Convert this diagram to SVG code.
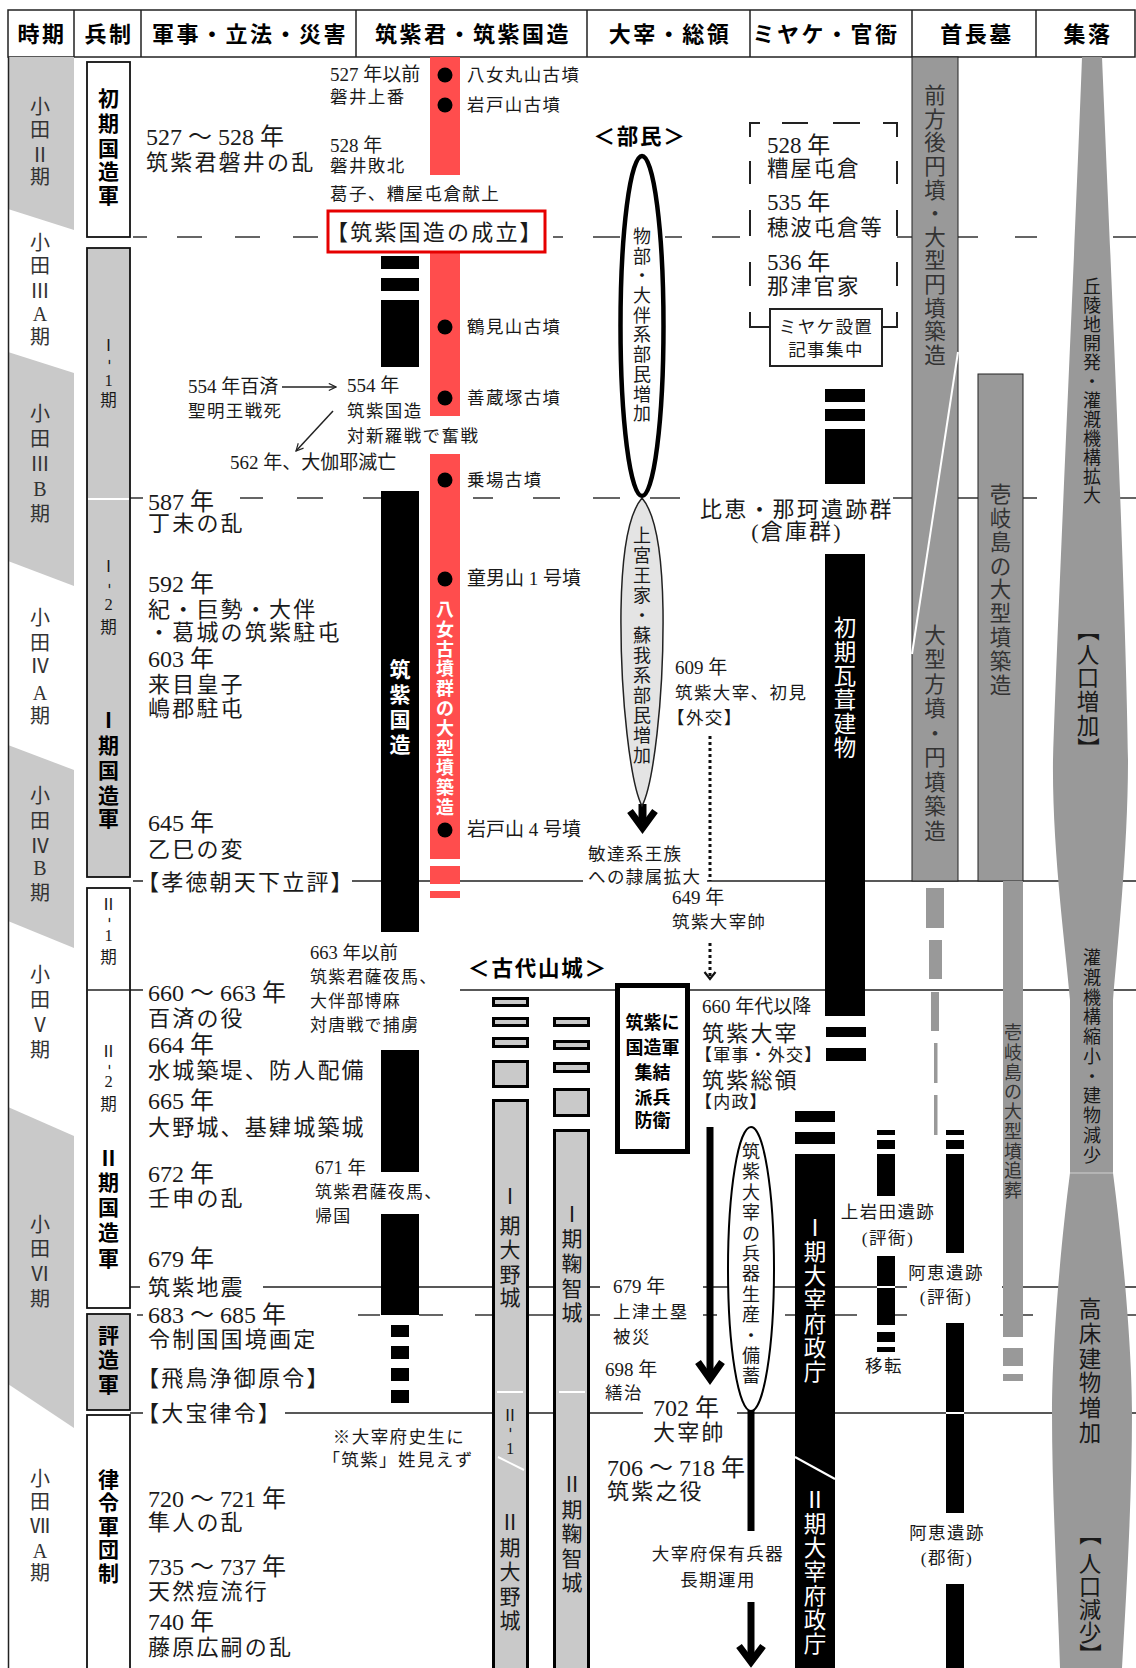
<svg xmlns="http://www.w3.org/2000/svg" width="1136" height="1668" viewBox="0 0 1136 1668">
<defs>
<style>
text{font-family:"Liberation Serif","Noto Sans CJK JP",serif;fill:#1a1a1a}
.b{font-family:"Noto Sans CJK JP",sans-serif;font-weight:700;fill:#000}
.hd{font-family:"Noto Sans CJK JP",sans-serif;font-weight:700;font-size:22px;letter-spacing:2.5px;text-anchor:middle;fill:#000}
.f24{font-size:22px;letter-spacing:2.2px}.d24{font-size:24px}
.f23{font-size:21.5px;letter-spacing:1.8px}.d23{font-size:23px}
.f19{font-size:17.5px;letter-spacing:1.4px}.d19{font-size:19px}
.f18{font-size:17px;letter-spacing:1.2px}.d18{font-size:18.5px}
.v24{font-size:22.5px}.v23{font-size:21.5px}.v22{font-size:21px}.v21{font-size:20px}.v19{font-size:18px}.v17{font-size:16.5px}
.m{text-anchor:middle}
.w{fill:#fff}
.g3{fill:#333}
.ln{stroke:#222;stroke-width:1.5;fill:none}
.dl{stroke:#333;stroke-width:1.5;fill:none}
.lg{fill:#c9c9c9}
.mg{fill:#999}
.bk{fill:#000}
.red{fill:#ff4d4d}
.wl{stroke:#fff;stroke-width:2;fill:none}
</style>
<marker id="ah" viewBox="0 0 10 10" refX="9" refY="5" markerWidth="9" markerHeight="9" orient="auto" markerUnits="userSpaceOnUse"><path d="M1,1 L9,5 L1,9" fill="none" stroke="#222" stroke-width="1.3"/></marker>
</defs>
<rect x="0" y="0" width="1136" height="1668" fill="#fff"/>

<g id="header">
<rect x="8" y="10" width="1127" height="47" fill="#fff" stroke="#222" stroke-width="1.5"/>
<path class="ln" d="M74,10V57 M141,10V57 M356,10V57 M587,10V57 M750,10V57 M912,10V57 M1036,10V57"/>
<text class="hd" x="42" y="41.5">時期</text>
<text class="hd" x="109" y="41.5">兵制</text>
<text class="hd" x="250" y="41.5">軍事・立法・災害</text>
<text class="hd" x="473" y="41.5">筑紫君・筑紫国造</text>
<text class="hd" x="670" y="41.5">大宰・総領</text>
<text class="hd" x="826" y="41.5">ミヤケ・官衙</text>
<text class="hd" x="977" y="41.5">首長墓</text>
<text class="hd" x="1088" y="41.5">集落</text>
</g>

<g id="period-column">
<rect x="8" y="57" width="66" height="1611" class="lg"/>
<polygon points="8,209 74,230 74,373 8,352" fill="#fff"/>
<polygon points="8,561 74,586 74,770 8,745" fill="#fff"/>
<polygon points="8,921 74,948 74,1136 8,1107" fill="#fff"/>
<polygon points="8,1384 74,1428 74,1668 8,1668" fill="#fff"/>
<line x1="8.5" y1="57" x2="8.5" y2="1668" stroke="#222" stroke-width="1.5"/>
<text class="v21 m g3"><tspan x="40" y="114">小</tspan><tspan x="40" y="137">田</tspan><tspan x="40" y="162">Ⅱ</tspan><tspan x="40" y="184">期</tspan></text>
<text class="v21 m g3"><tspan x="40" y="250">小</tspan><tspan x="40" y="273">田</tspan><tspan x="40" y="298">Ⅲ</tspan><tspan x="40" y="321">A</tspan><tspan x="40" y="344">期</tspan></text>
<text class="v21 m g3"><tspan x="40" y="421">小</tspan><tspan x="40" y="446">田</tspan><tspan x="40" y="471">Ⅲ</tspan><tspan x="40" y="496">B</tspan><tspan x="40" y="521">期</tspan></text>
<text class="v21 m g3"><tspan x="40" y="625">小</tspan><tspan x="40" y="650">田</tspan><tspan x="40" y="673">Ⅳ</tspan><tspan x="40" y="700">A</tspan><tspan x="40" y="723">期</tspan></text>
<text class="v21 m g3"><tspan x="40" y="803">小</tspan><tspan x="40" y="828">田</tspan><tspan x="40" y="853">Ⅳ</tspan><tspan x="40" y="875">B</tspan><tspan x="40" y="900">期</tspan></text>
<text class="v21 m g3"><tspan x="40" y="982">小</tspan><tspan x="40" y="1007">田</tspan><tspan x="40" y="1032">Ⅴ</tspan><tspan x="40" y="1057">期</tspan></text>
<text class="v21 m g3"><tspan x="40" y="1232">小</tspan><tspan x="40" y="1256">田</tspan><tspan x="40" y="1281">Ⅵ</tspan><tspan x="40" y="1306">期</tspan></text>
<text class="v21 m g3"><tspan x="40" y="1486">小</tspan><tspan x="40" y="1509">田</tspan><tspan x="40" y="1533">Ⅶ</tspan><tspan x="40" y="1558">A</tspan><tspan x="40" y="1580">期</tspan></text>
</g>

<g id="connectors">
<path class="dl" d="M133,237H147 M177,237H202 M235,237H260 M293,237H318 M553,237H563 M593,237H620 M665,237H682 M712,237H740 M897,237H913 M958,237H978 M1015,237H1037 M1113,237H1136"/>
<path class="dl" d="M130,498H143 M240,498H263 M297,498H323 M363,498H381 M473,498H493 M533,498H560 M593,498H620 M650,498H680 M893,498H913 M958,498H978 M1023,498H1037 M1113,498H1136"/>
<path class="ln" d="M133,881H143 M352,881H583 M707,881H1136"/>
<path class="ln" d="M87,990H143 M460,990H615 M690,990H1136"/>
<path class="ln" d="M130,1287H140 M263,1287H600 M703,1287H907 M1002,1287H1136"/>
<path class="dl" d="M137,1315H143 M358,1315H380 M419,1315H443 M475,1315H493 M527,1315H553 M590,1315H600 M703,1315H717 M785,1315H795 M835,1315H857 M895,1315H907 M1000,1315H1033 M1127,1315H1136"/>
<path class="ln" d="M130,1413H143 M285,1413H643 M737,1413H1136"/>
<path class="ln" d="M282,387H336" marker-end="url(#ah)"/>
<path class="ln" d="M333,411L296,451" marker-end="url(#ah)"/>
<path d="M710,736V881 M710,943V976" stroke="#111" stroke-width="3" stroke-dasharray="3 3" fill="none"/>
<path d="M704.5,972 L710,979 L715.5,972" fill="none" stroke="#111" stroke-width="2.2"/>
<path d="M642.5,804V822" stroke="#000" stroke-width="8"/>
<path d="M630,811 L642.5,828 L655,811" fill="none" stroke="#000" stroke-width="7"/>
<path d="M710,1127V1376" stroke="#000" stroke-width="7"/>
<path d="M698,1362 L710,1379 L722,1362" fill="none" stroke="#000" stroke-width="7"/>
<path d="M751,1410V1531" stroke="#000" stroke-width="7"/>
<path d="M751,1602V1660" stroke="#000" stroke-width="7"/>
<path d="M739,1646 L751,1662 L763,1646" fill="none" stroke="#000" stroke-width="7"/>
</g>

<g id="heisei">
<g id="box-shoki"><rect x="87" y="62" width="43" height="175" fill="#fff" stroke="#111" stroke-width="1.8"/>
<text class="b v22 m"><tspan x="108.5" y="106">初</tspan><tspan x="108.5" y="131">期</tspan><tspan x="108.5" y="156">国</tspan><tspan x="108.5" y="179">造</tspan><tspan x="108.5" y="203">軍</tspan></text></g>
<g id="box-1"><rect x="87" y="248" width="43" height="629" class="lg" stroke="#111" stroke-width="1.8"/>
<path d="M88,499H129" class="wl"/>
<text class="v17 m"><tspan x="108.5" y="351">Ⅰ</tspan><tspan x="107.4" y="359.2" rotate="90">-</tspan><tspan x="108.5" y="386">1</tspan><tspan x="108.5" y="406">期</tspan></text>
<text class="v17 m"><tspan x="108.5" y="572">Ⅰ</tspan><tspan x="107.4" y="583.2" rotate="90">-</tspan><tspan x="108.5" y="610">2</tspan><tspan x="108.5" y="633">期</tspan></text>
<text class="b v22 m"><tspan x="108.5" y="728">Ⅰ</tspan><tspan x="108.5" y="753">期</tspan><tspan x="108.5" y="778">国</tspan><tspan x="108.5" y="803">造</tspan><tspan x="108.5" y="826">軍</tspan></text></g>
<g id="box-2"><rect x="87" y="888" width="43" height="420" fill="#fff" stroke="#111" stroke-width="1.8"/>
<path d="M87,990H130" class="ln"/>
<text class="v17 m"><tspan x="108.5" y="910">Ⅱ</tspan><tspan x="107.4" y="917.2" rotate="90">-</tspan><tspan x="108.5" y="941">1</tspan><tspan x="108.5" y="963">期</tspan></text>
<text class="v17 m"><tspan x="108.5" y="1057">Ⅱ</tspan><tspan x="107.4" y="1064.2" rotate="90">-</tspan><tspan x="108.5" y="1087">2</tspan><tspan x="108.5" y="1110">期</tspan></text>
<text class="b v22 m"><tspan x="108.5" y="1166">Ⅱ</tspan><tspan x="108.5" y="1190">期</tspan><tspan x="108.5" y="1215">国</tspan><tspan x="108.5" y="1240">造</tspan><tspan x="108.5" y="1266">軍</tspan></text></g>
<g id="box-hyo"><rect x="87" y="1314" width="43" height="96" class="lg" stroke="#111" stroke-width="1.8"/>
<text class="b v22 m"><tspan x="108.5" y="1343">評</tspan><tspan x="108.5" y="1367">造</tspan><tspan x="108.5" y="1392">軍</tspan></text></g>
<g id="box-ritsuryo"><rect x="87" y="1415" width="43" height="270" fill="#fff" stroke="#111" stroke-width="1.8"/>
<text class="b v22 m"><tspan x="108.5" y="1487">律</tspan><tspan x="108.5" y="1510">令</tspan><tspan x="108.5" y="1534">軍</tspan><tspan x="108.5" y="1557">団</tspan><tspan x="108.5" y="1581">制</tspan></text></g>
</g>

<g id="events">
<text class="d24" x="146" y="145">527 ～ 528 年</text>
<text class="f24" x="146" y="170">筑紫君磐井の乱</text>
<text class="d24" x="148" y="510">587 年</text>
<text class="f24" x="148" y="531">丁未の乱</text>
<text class="d24" x="148" y="592">592 年</text>
<text class="f24" x="148" y="617">紀・巨勢・大伴</text>
<text class="f24" x="148" y="640">・葛城の筑紫駐屯</text>
<text class="d24" x="148" y="667">603 年</text>
<text class="f24" x="148" y="692">来目皇子</text>
<text class="f24" x="148" y="716">嶋郡駐屯</text>
<text class="d24" x="148" y="831">645 年</text>
<text class="f24" x="148" y="857">乙巳の変</text>
<text class="f24" x="137" y="890">【孝徳朝天下立評】</text>
<text class="d24" x="148" y="1001">660 ～ 663 年</text>
<text class="f24" x="148" y="1026">百済の役</text>
<text class="d24" x="148" y="1053">664 年</text>
<text class="f24" x="148" y="1078">水城築堤、防人配備</text>
<text class="d24" x="148" y="1109">665 年</text>
<text class="f24" x="148" y="1135">大野城、基肄城築城</text>
<text class="d24" x="148" y="1182">672 年</text>
<text class="f24" x="148" y="1206">壬申の乱</text>
<text class="d24" x="148" y="1267">679 年</text>
<text class="f24" x="148" y="1295">筑紫地震</text>
<text class="d24" x="148" y="1323">683 ～ 685 年</text>
<text class="f24" x="148" y="1347">令制国国境画定</text>
<text class="f24" x="137" y="1386">【飛鳥浄御原令】</text>
<text class="f24" x="137" y="1421">【大宝律令】</text>
<text class="d24" x="148" y="1507">720 ～ 721 年</text>
<text class="f24" x="148" y="1530">隼人の乱</text>
<text class="d24" x="148" y="1575">735 ～ 737 年</text>
<text class="f24" x="148" y="1599">天然痘流行</text>
<text class="d24" x="148" y="1630">740 年</text>
<text class="f24" x="148" y="1655">藤原広嗣の乱</text>
<text class="d19" x="188" y="393">554 年百済</text>
<text class="f19" x="188" y="417">聖明王戦死</text>
<text class="d19" x="230" y="469">562 年、大伽耶滅亡</text>
<text class="d18" x="310" y="959">663 年以前</text>
<text class="f18" x="310" y="983">筑紫君薩夜馬、</text>
<text class="f18" x="310" y="1007">大伴部博麻</text>
<text class="f18" x="310" y="1031">対唐戦で捕虜</text>
<text class="d18" x="315" y="1174">671 年</text>
<text class="f18" x="315" y="1198">筑紫君薩夜馬、</text>
<text class="f18" x="315" y="1222">帰国</text>
<text class="f19 m" x="399" y="1443">※大宰府史生に</text>
<text class="f19 m" x="398" y="1466">「筑紫」姓見えず</text>
</g>

<g id="chikushi-kimi">
<rect class="red" x="430" y="57" width="30" height="118"/>
<rect class="red" x="430" y="252" width="30" height="164"/>
<rect class="red" x="430" y="454" width="30" height="405"/>
<rect class="red" x="430" y="866" width="30" height="18"/>
<rect class="red" x="430" y="891" width="30" height="7"/>
<g fill="#000"><circle cx="445" cy="75" r="7.5"/><circle cx="445" cy="105" r="7.5"/><circle cx="445" cy="327" r="7.5"/><circle cx="445" cy="398" r="7.5"/><circle cx="445" cy="480" r="7.5"/><circle cx="445" cy="579" r="7.5"/><circle cx="445" cy="830" r="7.5"/></g>
<text class="f19" x="467" y="81">八女丸山古墳</text>
<text class="f19" x="467" y="111">岩戸山古墳</text>
<text class="f19" x="467" y="333">鶴見山古墳</text>
<text class="f19" x="467" y="404">善蔵塚古墳</text>
<text class="f19" x="467" y="486">乗場古墳</text>
<text class="d19" x="467" y="585">童男山 1 号墳</text>
<text class="d19" x="467" y="836">岩戸山 4 号墳</text>
<text class="b v19 m w"><tspan x="445" y="616">八</tspan><tspan x="445" y="636">女</tspan><tspan x="445" y="656">古</tspan><tspan x="445" y="675">墳</tspan><tspan x="445" y="695">群</tspan><tspan x="445" y="715">の</tspan><tspan x="445" y="735">大</tspan><tspan x="445" y="755">型</tspan><tspan x="445" y="774">墳</tspan><tspan x="445" y="794">築</tspan><tspan x="445" y="814">造</tspan></text>
<g class="bk"><rect x="381" y="256" width="38" height="13"/><rect x="381" y="278" width="38" height="13"/><rect x="381" y="300" width="38" height="67"/><rect x="381" y="491" width="38" height="441"/><rect x="381" y="1050" width="38" height="122"/><rect x="381" y="1214" width="38" height="101"/><rect x="391" y="1325" width="18" height="12"/><rect x="391" y="1346" width="18" height="13"/><rect x="391" y="1368" width="18" height="13"/><rect x="391" y="1390" width="18" height="13"/></g>
<text class="b v22 m w"><tspan x="400" y="677">筑</tspan><tspan x="400" y="702">紫</tspan><tspan x="400" y="727">国</tspan><tspan x="400" y="752">造</tspan></text>
<text class="d19" x="330" y="81">527 年以前</text>
<text class="f19" x="330" y="103">磐井上番</text>
<text class="d19" x="330" y="152">528 年</text>
<text class="f19" x="330" y="172">磐井敗北</text>
<text class="f19" x="330" y="200">葛子、糟屋屯倉献上</text>
<text class="d19" x="347" y="392">554 年</text>
<text class="f19" x="347" y="417">筑紫国造</text>
<text class="f19" x="347" y="442">対新羅戦で奮戦</text>
<g id="kuni-no-miyatsuko-seiritsu"><rect x="328" y="211" width="217" height="41" fill="#fff" stroke="#e60000" stroke-width="3"/>
<text class="f24" x="326" y="240">【筑紫国造の成立】</text></g>
</g>

<g id="dazai">
<text class="b f23 m" x="640" y="144">＜部民＞</text>
<g id="ellipse-mononobe"><ellipse cx="642" cy="326" rx="21.5" ry="170" fill="#fff" stroke="#000" stroke-width="4.5"/>
<text class="v19 m"><tspan x="642" y="243">物</tspan><tspan x="642" y="263">部</tspan><tspan x="642" y="282">・</tspan><tspan x="642" y="302">大</tspan><tspan x="642" y="322">伴</tspan><tspan x="642" y="341">系</tspan><tspan x="642" y="361">部</tspan><tspan x="642" y="381">民</tspan><tspan x="642" y="401">増</tspan><tspan x="642" y="420">加</tspan></text></g>
<g id="ellipse-soga"><path d="M642,498 C630,512 622,545 621,610 C620,700 631,785 642,806 C653,785 664,700 663,610 C662,545 654,512 642,498 Z" fill="#e4e4e4" stroke="#222" stroke-width="1.5"/>
<text class="v19 m"><tspan x="642" y="542">上</tspan><tspan x="642" y="562">宮</tspan><tspan x="642" y="582">王</tspan><tspan x="642" y="602">家</tspan><tspan x="642" y="622">・</tspan><tspan x="642" y="642">蘇</tspan><tspan x="642" y="662">我</tspan><tspan x="642" y="682">系</tspan><tspan x="642" y="702">部</tspan><tspan x="642" y="722">民</tspan><tspan x="642" y="742">増</tspan><tspan x="642" y="762">加</tspan></text></g>
<text class="f19" x="588" y="860">敏達系王族</text>
<text class="f19" x="588" y="883">への隷属拡大</text>
<text class="d19" x="675" y="674">609 年</text>
<text class="f19" x="675" y="699">筑紫大宰、初見</text>
<text class="f19" x="667" y="724">【外交】</text>
<text class="d19" x="672" y="904">649 年</text>
<text class="f19" x="672" y="928">筑紫大宰帥</text>
<text class="b f23 m" x="538" y="976">＜古代山城＞</text>
<g id="castle-ono" stroke="#000" stroke-width="3" fill="#c9c9c9">
<rect x="493.5" y="998.5" width="34" height="7"/><rect x="493.5" y="1018.5" width="34" height="7"/><rect x="493.5" y="1038.5" width="34" height="8"/><rect x="493.5" y="1061.5" width="34" height="25"/><rect x="493.5" y="1100.5" width="34" height="600"/></g>
<path d="M497,1392H523 M498,1457L524,1470" class="wl" stroke-width="2.5"/>
<text class="v22 m"><tspan x="510" y="1204">Ⅰ</tspan><tspan x="510" y="1233">期</tspan><tspan x="510" y="1257">大</tspan><tspan x="510" y="1282">野</tspan><tspan x="510" y="1305">城</tspan></text>
<text class="v17 m"><tspan x="510" y="1421">Ⅱ</tspan><tspan x="508.9" y="1427.2" rotate="90">-</tspan><tspan x="510" y="1454">1</tspan></text>
<text class="v22 m"><tspan x="510" y="1530">Ⅱ</tspan><tspan x="510" y="1555">期</tspan><tspan x="510" y="1579">大</tspan><tspan x="510" y="1604">野</tspan><tspan x="510" y="1628">城</tspan></text>
<g id="castle-kikuchi" stroke="#000" stroke-width="3" fill="#c9c9c9">
<rect x="554.5" y="1018.5" width="34" height="7"/><rect x="554.5" y="1041.5" width="34" height="7"/><rect x="554.5" y="1063.5" width="34" height="8"/><rect x="554.5" y="1089.5" width="34" height="26"/><rect x="554.5" y="1130.5" width="34" height="600"/></g>
<path d="M559,1392H585" class="wl" stroke-width="2.5"/>
<text class="v22 m"><tspan x="572" y="1222">Ⅰ</tspan><tspan x="572" y="1246">期</tspan><tspan x="572" y="1271">鞠</tspan><tspan x="572" y="1296">智</tspan><tspan x="572" y="1320">城</tspan></text>
<text class="v22 m"><tspan x="572" y="1492">Ⅱ</tspan><tspan x="572" y="1517">期</tspan><tspan x="572" y="1541">鞠</tspan><tspan x="572" y="1566">智</tspan><tspan x="572" y="1590">城</tspan></text>
<g id="box-kuninomiyatsuko-gun"><rect x="617.5" y="985.5" width="70" height="166" fill="#fff" stroke="#000" stroke-width="5"/>
<text class="b m" style="font-size:18px"><tspan x="652.5" y="1029">筑紫に</tspan><tspan x="652.5" y="1054">国造軍</tspan><tspan x="652.5" y="1079">集結</tspan><tspan x="652.5" y="1104">派兵</tspan><tspan x="652.5" y="1127">防衛</tspan></text></g>
<text class="d19" x="702" y="1013">660 年代以降</text>
<text class="f24" x="702" y="1041">筑紫大宰</text>
<text class="f18" x="695" y="1061">【軍事・外交】</text>
<text class="f24" x="702" y="1088">筑紫総領</text>
<text class="f18" x="695" y="1108">【内政】</text>
<g id="ellipse-heiki"><ellipse cx="751" cy="1269" rx="23" ry="142" fill="#fff" stroke="#000" stroke-width="2"/>
<text class="v19 m"><tspan x="751" y="1158">筑</tspan><tspan x="751" y="1178">紫</tspan><tspan x="751" y="1199">大</tspan><tspan x="751" y="1219">宰</tspan><tspan x="751" y="1240">の</tspan><tspan x="751" y="1260">兵</tspan><tspan x="751" y="1280">器</tspan><tspan x="751" y="1301">生</tspan><tspan x="751" y="1321">産</tspan><tspan x="751" y="1342">・</tspan><tspan x="751" y="1362">備</tspan><tspan x="751" y="1382">蓄</tspan></text></g>
<text class="d19" x="613" y="1293">679 年</text>
<text class="f19" x="613" y="1318">上津土塁</text>
<text class="f19" x="613" y="1343">被災</text>
<text class="d19" x="605" y="1376">698 年</text>
<text class="f19" x="605" y="1399">繕治</text>
<text class="d24" x="653" y="1416">702 年</text>
<text class="f24" x="653" y="1440">大宰帥</text>
<text class="d24" x="607" y="1476">706 ～ 718 年</text>
<text class="f24" x="607" y="1499">筑紫之役</text>
<text class="f19 m" x="718" y="1560">大宰府保有兵器</text>
<text class="f19 m" x="718" y="1586">長期運用</text>
</g>

<g id="miyake">
<path d="M750,137V123H760 M782,123H808 M833,123H860 M883,123H897V137 M750,161V184 M750,210V236 M750,262V286 M750,312V327H770 M897,161V184 M897,210V236 M897,262V286 M897,312V327H882" stroke="#222" stroke-width="2" fill="none"/>
<text class="d23" x="767" y="153">528 年</text>
<text class="f23" x="767" y="176">糟屋屯倉</text>
<text class="d23" x="767" y="210">535 年</text>
<text class="f23" x="767" y="235">穂波屯倉等</text>
<text class="d23" x="767" y="270">536 年</text>
<text class="f23" x="767" y="294">那津官家</text>
<g id="box-miyake-setchi"><rect x="770" y="309" width="112" height="57" fill="#fff" stroke="#222" stroke-width="2"/>
<text class="f19 m" x="826" y="333">ミヤケ設置</text>
<text class="f19 m" x="826" y="356">記事集中</text></g>
<g class="bk"><rect x="825" y="389" width="40" height="13"/><rect x="825" y="409" width="40" height="12"/><rect x="825" y="429" width="40" height="55"/><rect x="825" y="554" width="40" height="462"/><rect x="826" y="1027" width="40" height="10"/><rect x="826" y="1048" width="40" height="13"/></g>
<text class="v24 m w"><tspan x="845" y="636">初</tspan><tspan x="845" y="660">期</tspan><tspan x="845" y="684">瓦</tspan><tspan x="845" y="708">葺</tspan><tspan x="845" y="732">建</tspan><tspan x="845" y="756">物</tspan></text>
<text class="f24" x="700" y="517">比恵・那珂遺跡群</text>
<text class="f24 m" x="797" y="539">(倉庫群)</text>
<g class="bk"><rect x="795" y="1111" width="40" height="11"/><rect x="795" y="1132" width="40" height="12"/><rect x="795" y="1154" width="40" height="520"/></g>
<path d="M795,1457L835,1479" class="wl"/>
<text class="v24 m w"><tspan x="815" y="1236">Ⅰ</tspan><tspan x="815" y="1260">期</tspan><tspan x="815" y="1284">大</tspan><tspan x="815" y="1308">宰</tspan><tspan x="815" y="1332">府</tspan><tspan x="815" y="1356">政</tspan><tspan x="815" y="1380">庁</tspan></text>
<text class="v24 m w"><tspan x="815" y="1508">Ⅱ</tspan><tspan x="815" y="1532">期</tspan><tspan x="815" y="1556">大</tspan><tspan x="815" y="1580">宰</tspan><tspan x="815" y="1604">府</tspan><tspan x="815" y="1628">政</tspan><tspan x="815" y="1652">庁</tspan></text>
<g class="bk"><rect x="877" y="1130" width="18" height="5"/><rect x="877" y="1140" width="18" height="9"/><rect x="877" y="1154" width="18" height="42"/><rect x="877" y="1256" width="18" height="69"/><rect x="877" y="1332" width="18" height="10"/><rect x="877" y="1347" width="18" height="5"/></g>
<path d="M877,1287H895" class="wl" stroke-width="1.5"/>
<text class="f19 m" x="888" y="1218">上岩田遺跡</text>
<text class="f19 m" x="888" y="1244">(評衙)</text>
<text class="f19 m" x="884" y="1372">移転</text>
</g>

<g id="shuchobo">
<rect x="912" y="57" width="46" height="824" class="mg" stroke="#222" stroke-width="1"/>
<path d="M958,352L912,654" class="wl"/>
<text class="v23 m g3"><tspan x="935" y="103">前</tspan><tspan x="935" y="127">方</tspan><tspan x="935" y="150">後</tspan><tspan x="935" y="174">円</tspan><tspan x="935" y="198">墳</tspan><tspan x="935" y="221">・</tspan><tspan x="935" y="245">大</tspan><tspan x="935" y="268">型</tspan><tspan x="935" y="292">円</tspan><tspan x="935" y="316">墳</tspan><tspan x="935" y="339">築</tspan><tspan x="935" y="363">造</tspan></text>
<text class="v23 m g3"><tspan x="935" y="643">大</tspan><tspan x="935" y="667">型</tspan><tspan x="935" y="692">方</tspan><tspan x="935" y="716">墳</tspan><tspan x="935" y="741">・</tspan><tspan x="935" y="765">円</tspan><tspan x="935" y="790">墳</tspan><tspan x="935" y="814">築</tspan><tspan x="935" y="839">造</tspan></text>
<rect x="978" y="374" width="45" height="507" class="mg" stroke="#222" stroke-width="1"/>
<text class="v23 m g3"><tspan x="1000.5" y="502">壱</tspan><tspan x="1000.5" y="526">岐</tspan><tspan x="1000.5" y="550">島</tspan><tspan x="1000.5" y="574">の</tspan><tspan x="1000.5" y="597">大</tspan><tspan x="1000.5" y="621">型</tspan><tspan x="1000.5" y="645">墳</tspan><tspan x="1000.5" y="669">築</tspan><tspan x="1000.5" y="693">造</tspan></text>
<g class="mg"><rect x="1003" y="881" width="20" height="456"/><rect x="1003" y="1348" width="20" height="18"/><rect x="1003" y="1374" width="20" height="7"/>
<rect x="926" y="888" width="18" height="40"/><rect x="929" y="940" width="13" height="39"/><rect x="931" y="992" width="8" height="39"/><rect x="934" y="1043" width="3.5" height="40"/><rect x="934" y="1095" width="3.5" height="40"/></g>
<text class="v19 m g3"><tspan x="1013" y="1039">壱</tspan><tspan x="1013" y="1059">岐</tspan><tspan x="1013" y="1079">島</tspan><tspan x="1013" y="1098">の</tspan><tspan x="1013" y="1118">大</tspan><tspan x="1013" y="1138">型</tspan><tspan x="1013" y="1158">墳</tspan><tspan x="1013" y="1177">追</tspan><tspan x="1013" y="1197">葬</tspan></text>
<g class="bk"><rect x="946" y="1130" width="18" height="5"/><rect x="946" y="1140" width="18" height="9"/><rect x="946" y="1154" width="18" height="99"/><rect x="946" y="1323" width="18" height="190"/><rect x="946" y="1584" width="18" height="90"/></g>
<path d="M946,1413H964" class="wl" stroke-width="1.5"/>
<text class="f19 m" x="946" y="1279">阿恵遺跡</text>
<text class="f19 m" x="946" y="1303">(評衙)</text>
<text class="f19 m" x="947" y="1539">阿恵遺跡</text>
<text class="f19 m" x="947" y="1564">(郡衙)</text>
</g>

<g id="shuraku">
<path class="mg" d="M1082,57 C1075,250 1058,600 1053,760 C1052,850 1066,950 1070,1000 L1070,1173 C1060,1250 1052,1350 1052,1413 C1052,1500 1058,1600 1060,1668 L1122,1668 C1126,1600 1132,1500 1132,1413 C1132,1350 1123,1250 1113,1173 L1113,1000 C1117,950 1128,850 1128,760 C1126,600 1110,250 1102,57 Z"/>
<path d="M1070,1173H1113" stroke="#d0d0d0" stroke-width="1"/>
<text class="v19 m"><tspan x="1092" y="293">丘</tspan><tspan x="1092" y="312">陵</tspan><tspan x="1092" y="331">地</tspan><tspan x="1092" y="350">開</tspan><tspan x="1092" y="369">発</tspan><tspan x="1092" y="388">・</tspan><tspan x="1092" y="407">灌</tspan><tspan x="1092" y="426">漑</tspan><tspan x="1092" y="445">機</tspan><tspan x="1092" y="464">構</tspan><tspan x="1092" y="483">拡</tspan><tspan x="1092" y="502">大</tspan></text>
<text class="v24 m"><tspan x="1090.9" y="619" rotate="90">【</tspan><tspan x="1088" y="663">人</tspan><tspan x="1088" y="686">口</tspan><tspan x="1088" y="710">増</tspan><tspan x="1088" y="734">加</tspan><tspan x="1090.9" y="737" rotate="90">】</tspan></text>
<text class="v19 m"><tspan x="1092" y="964">灌</tspan><tspan x="1092" y="984">漑</tspan><tspan x="1092" y="1004">機</tspan><tspan x="1092" y="1023">構</tspan><tspan x="1092" y="1043">縮</tspan><tspan x="1092" y="1063">小</tspan><tspan x="1092" y="1083">・</tspan><tspan x="1092" y="1102">建</tspan><tspan x="1092" y="1122">物</tspan><tspan x="1092" y="1142">減</tspan><tspan x="1092" y="1162">少</tspan></text>
<text class="v24 m"><tspan x="1090" y="1317">高</tspan><tspan x="1090" y="1342">床</tspan><tspan x="1090" y="1367">建</tspan><tspan x="1090" y="1391">物</tspan><tspan x="1090" y="1416">増</tspan><tspan x="1090" y="1441">加</tspan></text>
<text class="v24 m"><tspan x="1092.9" y="1523" rotate="90">【</tspan><tspan x="1090" y="1572">人</tspan><tspan x="1090" y="1595">口</tspan><tspan x="1090" y="1618">減</tspan><tspan x="1090" y="1641">少</tspan><tspan x="1092.9" y="1643" rotate="90">】</tspan></text>
</g>
</svg>
